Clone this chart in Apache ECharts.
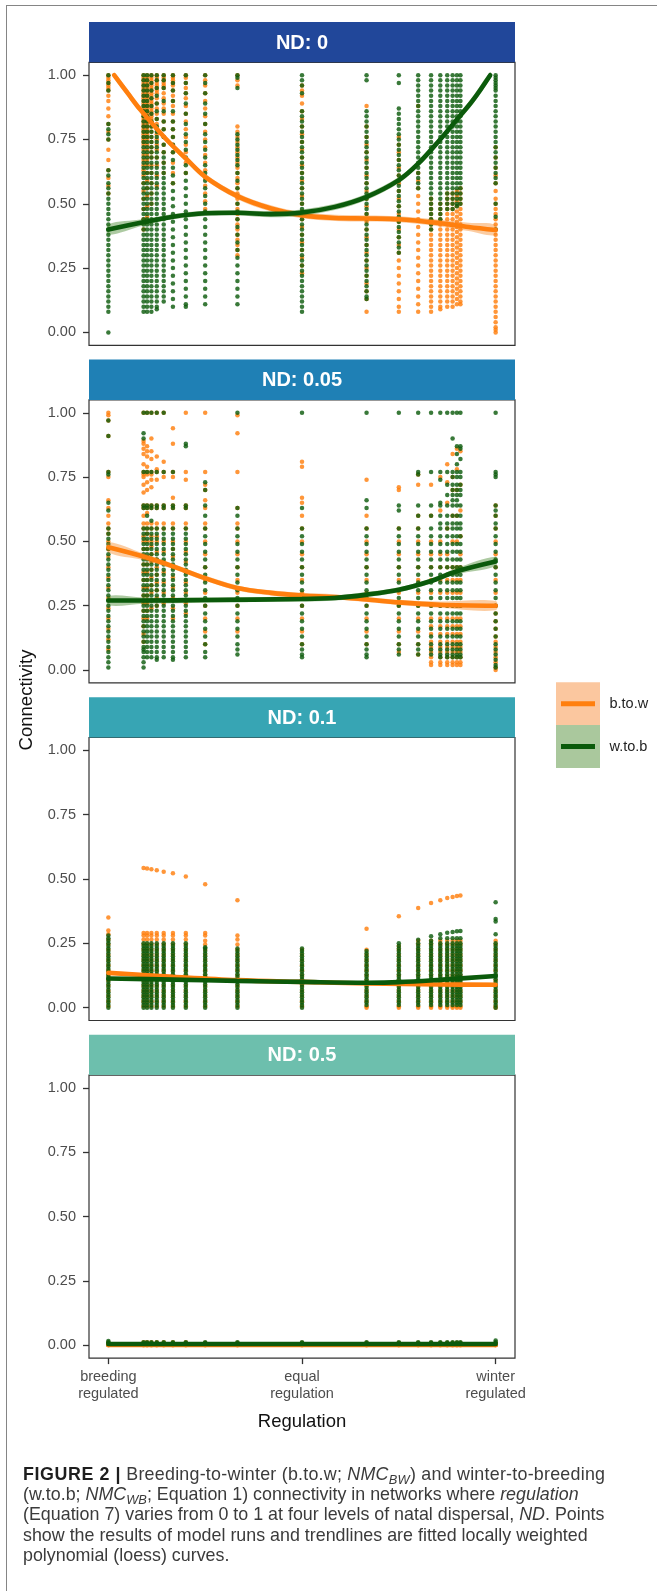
<!DOCTYPE html>
<html>
<head>
<meta charset="utf-8">
<script src="https://cdn.jsdelivr.net/npm/echarts@6/dist/echarts.min.js"></script>
<style>
  html, body { margin: 0; padding: 0; background: #fff; }
  #wrap { position: relative; width: 657px; height: 1591px; overflow: hidden; }
  #frame { position: absolute; left: 6px; top: 5px; right: -10px; bottom: -10px;
           border-left: 1.5px solid #858585; border-top: 1.5px solid #858585; }
  #chart { position: absolute; left: 0; top: 0; width: 657px; height: 1591px; }
  #cap { position: absolute; left: 23px; top: 1464px; font-family: 'Liberation Sans', Arial, sans-serif;
         font-size: 18.5px; line-height: 20.2px; color: #3b3b3b; white-space: nowrap;
         transform: scaleX(0.965); transform-origin: 0 0; }
  #cap b { color: #1e1e1e; letter-spacing: 0.6px; }
  #cap .l1 { letter-spacing: 0.25px; }
  #cap sub { font-size: 0.72em; line-height: 0; vertical-align: -0.3em; }
</style>
</head>
<body>
<div id="wrap">
  <div id="frame"></div>
  <div id="chart"></div>
  <div id="cap"><span class="l1"><b>FIGURE 2 |</b> Breeding-to-winter (b.to.w; <i>NMC</i><sub><i>BW</i></sub>) and winter-to-breeding</span><br>(w.to.b; <i>NMC</i><sub><i>WB</i></sub>; Equation 1) connectivity in networks where <i>regulation</i><br>(Equation 7) varies from 0 to 1 at four levels of natal dispersal, <i>ND</i>. Points<br>show the results of model runs and trendlines are fitted locally weighted<br>polynomial (loess) curves.</div>
</div>
<script>
// regulation levels (x) of the model runs
const regulation = [0, 0.0909, 0.1, 0.1111, 0.125, 0.1429, 0.1667, 0.2, 0.25, 0.3333, 0.5,
  0.6667, 0.75, 0.8, 0.8333, 0.8571, 0.875, 0.8889, 0.9, 0.9091, 1];

const panelLabels = ['ND: 0', 'ND: 0.05', 'ND: 0.1', 'ND: 0.5'];
const yTickValues = [0, 0.25, 0.5, 0.75, 1];
const xTickValues = [0, 0.5, 1];
const xTickLabels = ['breeding\nregulated', 'equal\nregulation', 'winter\nregulated'];
const seriesNames = ['b.to.w', 'w.to.b'];

// connectivity of each run, per regulation column, in percent
const nd0_btw = [
  [100,99,98,97,96,95,94,92,90,87,84,81,78,75,71,67,63,60,57,54],
  [100,99,98,97,96,95,94,93,92,91,90,89,88,87,86,85,84,83,82,81,80,79,78,77,76,75,74,73,71,69,67,65,63,61,58,55,52,48,44,40],
  [100,99,98,97,96,95,94,93,92,91,90,89,88,87,86,85,84,83,82,81,80,79,78,77,76,75,73,71,69,67,65,62,59,56,53,49,45],
  [100,99,98,97,96,95,94,93,92,91,90,89,88,87,86,85,84,83,82,80,78,76,74,72,70,68,65,62,58,54,50],
  [100,99,98,97,96,95,94,93,91,89,87,85,83,81,79,77,75,73,71,68,65,61,57],
  [100,99,98,97,96,95,93,91,89,87,85,82,79,76,73,70,66,62],
  [100,99,98,97,96,94,92,90,88,85,82,79,76,73,70,66,62,58],
  [100,99,97,95,93,91,88,85,82,79,76,73,70,66,62],
  [100,98,96,93,90,87,84,81,78,75,72,69,66,63,60,57,54,51,48],
  [100,98,96,80,78,76,74,72,70,68,66,64,62,60,58,56,54,52,50,48,46,44,42,40,38,36,34,32,30],
  [96,94,92,89,86,83,80,77,74,71,68,65,62,59,56,53,50,47,44,41,38,35,32,29,26,23],
  [88,80,76,73,70,67,64,61,58,55,52,49,46,43,40,37,34,31,28,25,22,19,16,13,8],
  [76,73,70,67,64,61,58,55,52,49,46,43,40,37,34,31,28,25,22,19,16,13,10,8],
  [88,62,59,56,53,50,47,44,41,38,35,32,29,26,23,20,17,14,11,8],
  [52,50,48,46,44,42,40,38,36,34,32,30,28,26,24,22,20,18,16,14,12,10,8],
  [50,48,46,44,42,40,38,36,34,32,30,28,26,24,22,20,18,16,14,12,10,9],
  [54,52,50,48,46,44,42,40,38,36,34,32,30,28,26,24,22,20,18,16,14,12,10],
  [54,52,50,48,46,44,42,40,38,36,34,32,30,28,26,24,22,20,18,16,14,12,10],
  [55,53,51,49,47,45,43,41,39,37,35,33,31,29,27,25,23,21,19,17,15,13,11],
  [56,54,52,50,48,46,44,42,40,38,36,34,32,30,28,26,24,22,20,18,16,14,12,11],
  [72,68,64,61,58,55,52,50,48,46,44,42,40,38,36,34,32,30,28,26,24,22,20,18,16,14,12,10,8,6,4,2,1,0]
];
const nd0_wtb = [
  [100,97,94,81,79,77,75,63,61,58,56,54,52,50,48,46,44,42,40,38,36,34,32,30,28,26,24,22,20,18,16,14,12,10,8,0],
  [100,98,96,94,92,90,88,86,84,82,80,78,76,74,72,70,68,66,64,62,60,58,56,54,52,50,48,46,44,42,40,38,36,34,32,30,28,26,24,22,20,18,16,14,12,10,8],
  [100,98,96,94,92,90,88,86,84,82,80,78,76,74,72,70,68,66,64,62,60,58,56,54,52,50,48,46,44,42,40,38,36,34,32,30,28,26,24,22,20,18,16,14,12,10,8],
  [100,97,94,91,88,85,82,80,78,76,74,72,70,68,66,64,62,60,58,56,54,52,50,48,46,44,42,40,38,36,34,32,30,28,26,24,22,20,18,16,14,12,10,8],
  [100,98,95,92,89,86,83,80,78,76,74,72,70,68,66,64,62,60,58,56,54,52,50,48,46,44,42,40,38,36,34,32,30,28,26,24,22,20,18,16,14,12,10,9],
  [100,98,95,90,86,82,79,76,73,70,68,66,64,62,60,58,56,54,52,50,48,46,44,42,40,38,36,34,32,30,28,26,24,22,20,18,16,14,12],
  [100,97,94,90,86,82,79,76,73,70,67,64,61,58,55,52,49,46,43,40,37,34,31,28,25,22,19,16,13,10],
  [100,97,93,89,85,81,77,74,71,68,65,62,59,56,53,50,47,44,41,38,35,32,29,26,23,20,17,14,11,10],
  [100,97,93,89,85,81,77,74,71,68,65,62,59,56,53,50,47,44,41,38,35,32,29,26,23,20,17,14,11],
  [100,99,95,77,75,73,71,69,67,65,62,59,56,53,50,47,44,41,38,35,32,29,26,23,20,17,14,11],
  [100,98,96,93,86,84,82,80,78,76,74,72,70,68,66,64,62,60,58,56,54,52,50,48,46,44,42,40,38,36,34,32,30,28,26,24,22,20,18,16,14,12,10,8],
  [100,98,86,84,82,80,78,76,74,72,70,68,66,64,62,60,58,56,54,52,50,48,46,44,42,40,38,36,34,32,30,28,26,24,22,20,18,16,14,13],
  [100,97,87,85,83,81,79,77,75,73,71,69,67,65,63,61,59,57,55,53,51,49,47,45,43,41,39,37,35,33,31],
  [100,98,96,94,92,90,88,86,84,82,80,78,76,74,72,70,68,66,64,62,60,58,56],
  [100,98,96,94,92,90,88,86,84,82,80,78,76,74,72,70,68,66,64,62,60,58,56,54,52,50,48,46,44,42,40],
  [100,98,96,94,92,90,88,86,84,82,80,78,76,74,72,70,68,66,64,62,60,58,56,54,52,50,48,46,44],
  [100,98,96,94,92,90,88,86,84,82,80,78,76,74,72,70,68,66,64,62,60,58,56,54,52,50,48],
  [100,98,96,94,92,90,88,86,84,82,80,78,76,74,72,70,68,66,64,62,60,58,56,54,52,50,48],
  [100,98,96,94,92,90,88,86,84,82,80,78,76,74,72,70,68,66,64,62,60,58,56,54,52,50,49],
  [100,98,96,94,92,90,88,86,84,82,80,78,76,74,72,70,68,66,64,62,60,58,56,54,52,50],
  [100,99,98,97,96,95,94,92,90,88,86,84,82,80,78,76,74,72,70,68,66,64,62,60,58,50,45,40]
];

const nd5_btw = [
  [100,99,97,91,77,75,66,63,60,57,55,53,50,47,44,40,36,32,28,24,20,16,12,8],
  [100,89,88,86,84,80,77,76,75,72,69,64,63,60,57,55,52,50,47,44,41,38,35,32,29,26,23,20,17,14,11],
  [100,87,85,83,79,77,76,73,70,64,63,61,57,55,53,50,47,44,41,38,35,32,29,26,23,20],
  [100,90,85,82,77,76,74,71,64,63,57,55,52,50,48,45,42,39,36,33,30,27,24],
  [100,83,78,77,74,64,63,57,55,52,50,46,43,40,37,34,31,28,25],
  [100,81,77,75,64,63,57,55,50,46,42,38,34,30,26],
  [94,88,77,75,67,64,63,57,55,50,47,44,40,36,32,28,24,20],
  [100,77,74,64,63,57,55,50,46,42,38,34,30,26,22],
  [100,77,72,70,66,63,57,55,50,45,40,35,30,25,20,15,10],
  [99,92,77,63,57,55,50,45,40,35,30,25,20,15],
  [81,79,67,65,60,55,50,45,40,35,30,25,20,15,10],
  [74,60,55,50,45,40,35,30,25,20,15,10],
  [71,70,55,50,45,40,35,30,25,20,15,10,7],
  [76,72,60,55,50,45,40,35,30,25,20,15,10,6],
  [72,60,50,45,40,35,30,25,20,17,14,11,9,7,5,3,2],
  [75,62,50,45,40,35,30,25,20,17,14,11,9,7,5,3,2],
  [80,73,65,55,45,40,35,30,25,20,17,14,11,9,7,5,3,2],
  [84,75,70,60,50,40,35,30,25,20,17,14,11,9,7,5,3,2],
  [86,78,70,60,50,40,35,30,25,20,17,14,11,9,7,5,3,2],
  [85,72,62,52,45,40,35,30,25,20,17,14,11,9,7,5,3,2],
  [64,60,55,50,45,40,35,30,25,22,19,16,13,11,9,7,5,3,1,0]
];
const nd5_wtb = [
  [97,91,77,76,65,62,55,53,51,49,47,45,43,41,39,37,35,33,31,29,27,25,23,21,19,17,15,13,11,9,7,5,3,1],
  [100,92,90,77,64,63,55,53,51,49,47,45,43,41,39,37,35,33,31,29,27,25,23,21,19,17,15,13,11,9,8,7,5,3,1],
  [100,77,64,63,60,55,53,51,49,47,45,43,41,39,37,35,33,31,29,27,25,23,21,19,17,15,13,11,9,7,5],
  [100,77,64,63,58,55,53,51,49,47,45,43,41,39,37,35,33,31,29,27,25,23,21,19,17,15,13,11,9,7,5],
  [100,77,64,63,55,53,51,49,47,45,43,41,39,37,35,33,31,29,27,25,23,21,19,17,15,13,11,9,7,5,4],
  [100,77,64,63,55,53,51,49,47,45,43,41,39,37,35,33,31,29,27,25,23,21,19,17,15,13,11,9,7,5],
  [77,64,63,55,53,51,49,47,45,43,41,39,37,35,33,31,29,27,25,23,21,19,17,15,13,11,9,7,5,4],
  [88,87,64,63,55,53,51,49,47,45,43,41,39,37,35,33,31,29,27,25,23,21,19,17,15,13,11,9,7,5],
  [73,70,64,60,55,52,49,46,43,40,37,34,31,28,25,22,19,16,13,10,7,5],
  [100,63,60,55,52,49,46,43,40,37,34,31,28,25,22,19,16,13,10,8,6],
  [100,63,55,52,49,46,43,40,37,34,31,28,25,22,19,16,13,10,8,6,5],
  [100,66,63,55,52,49,46,43,40,37,34,31,28,25,22,19,16,13,10,8,6,5],
  [100,64,62,55,52,49,46,43,40,37,34,31,28,25,22,19,16,13,10,8,6],
  [100,77,76,64,60,55,52,49,46,43,40,37,34,31,28,25,22,19,16,13,10,8,6],
  [100,77,64,60,55,52,49,46,43,40,37,34,31,28,25,22,19,16,13,10,8,6],
  [100,77,74,65,64,60,57,55,52,49,46,43,40,37,34,31,28,25,22,19,16,13,10,8,6,5],
  [100,77,72,68,64,60,57,55,52,49,46,43,40,37,34,31,28,25,22,19,16,13,10,8,6,5],
  [100,90,77,75,72,70,68,66,64,60,57,55,52,49,46,43,40,37,34,31,28,25,22,19,16,13,10,8,6,5],
  [100,87,84,80,77,75,72,70,68,66,64,60,57,55,52,49,46,43,40,37,34,31,28,25,22,19,16,13,10,8,6,5],
  [100,87,86,82,77,75,72,70,68,64,60,57,55,52,49,46,43,40,37,34,31,28,25,22,19,16,13,10,8,6,5],
  [100,77,76,75,64,62,60,57,55,52,49,46,43,40,37,34,31,28,25,22,19,16,13,10,8,6,4,2,1]
];

const nd10_btw = [
  [35,30,28.5,26.5,24.5,22.5,20.5,18.5,16.5,14.5,12.5,10.5,8.5,6.5,4.5,2.5,0.5],
  [54.3,29,28,26.5,24.5,22.5,20.5,18.5,16.5,14.5,12.5,10.5,8.5,6.5,4.5,2.5,0.5],
  [54.1,29,28,26.5,24.5,22.5,20.5,18.5,16.5,14.5,12.5,10.5,8.5,6.5,4.5,2.5,0.5],
  [53.8,29,28,26.5,24.5,22.5,20.5,18.5,16.5,14.5,12.5,10.5,8.5,6.5,4.5,2.5,0.5],
  [53.4,29,28,26.5,24.5,22.5,20.5,18.5,16.5,14.5,12.5,10.5,8.5,6.5,4.5,2.5,0.5],
  [52.8,29,28,26.5,24.5,22.5,20.5,18.5,16.5,14.5,12.5,10.5,8.5,6.5,4.5,2.5,0.5],
  [52.2,29,28,26.5,24.5,22.5,20.5,18.5,16.5,14.5,12.5,10.5,8.5,6.5,4.5,2.5,0.5],
  [51,29,28,26.5,24.5,22.5,20.5,18.5,16.5,14.5,12.5,10.5,8.5,6.5,4.5,2.5,0.5],
  [48,29,28,26,24.5,22.5,20.5,18.5,16.5,14.5,12.5,10.5,8.5,6.5,4.5,2.5,0.5],
  [41.7,28,26.5,24.5,22.5,20.5,18.5,16.5,14.5,12.5,10.5,8.5,6.5,4.5,2.5,0.5],
  [22.5,20.5,18.5,16.5,14.5,12.5,10.5,8.5,6.5,4.5,2.5,0.5],
  [30.7,22.5,20.5,18.5,16.5,14.5,12.5,10.5,8.5,6.5,4.5,2.5,0.5,0],
  [35.5,24,22.5,20.5,18.5,16.5,14.5,12.5,10.5,8.5,6.5,4.5,2.5,0.5,0],
  [38.7,26,24.5,22.5,20.5,18.5,16.5,14.5,12.5,10.5,8.5,6.5,4.5,2.5,0.5,0],
  [40.7,26,24.5,22.5,20.5,18.5,16.5,14.5,12.5,10.5,8.5,6.5,4.5,2.5,0.5,0],
  [41.7,26,24.5,22.5,20.5,18.5,16.5,14.5,12.5,10.5,8.5,6.5,4.5,2.5,0.5,0],
  [42.6,26,24.5,22.5,20.5,18.5,16.5,14.5,12.5,10.5,8.5,6.5,4.5,2.5,0.5,0],
  [43,26,24.5,22.5,20.5,18.5,16.5,14.5,12.5,10.5,8.5,6.5,4.5,2.5,0.5,0],
  [43.4,26,24.5,22.5,20.5,18.5,16.5,14.5,12.5,10.5,8.5,6.5,4.5,2.5,0.5,0],
  [43.6,26,24.5,22.5,20.5,18.5,16.5,14.5,12.5,10.5,8.5,6.5,4.5,2.5,0.5,0],
  [26,24.5,22.5,20.5,18.5,16.5,14.5,12.5,10.5,8.5,6.5,4.5,2.5,0.5,0]
];
const nd10_wtb = [
  [28,27,26,25,24,23,22,21,20,19,18,17,16,15,14,13,12,11,10,9,8,7,6,5,4,3,2,1,0],
  [25,24,23,22,21,20,19,18,17,16,15,14,13,12,11,10,9,8,7,6,5,4,3,2,1,0],
  [25,24,23,22,21,20,19,18,17,16,15,14,13,12,11,10,9,8,7,6,5,4,3,2,1,0],
  [25,24,23,22,21,20,19,18,17,16,15,14,13,12,11,10,9,8,7,6,5,4,3,2,1,0],
  [25,24,23,22,21,20,19,18,17,16,15,14,13,12,11,10,9,8,7,6,5,4,3,2,1,0],
  [25,24,23,22,21,20,19,18,17,16,15,14,13,12,11,10,9,8,7,6,5,4,3,2,1,0],
  [25,24,23,22,21,20,19,18,17,16,15,14,13,12,11,10,9,8,7,6,5,4,3,2,1,0],
  [25,24,23,22,21,20,19,18,17,16,15,14,13,12,11,10,9,8,7,6,5,4,3,2,1,0],
  [23.5,23,22,21,20,19,18,17,16,15,14,13,12,11,10,9,8,7,6,5,4,3,2,1,0],
  [23,22,21,20,19,18,17,16,15,14,13,12,11,10,9,8,7,6,5,4,3,2,1,0],
  [23,22,21,20,19,18,17,16,15,14,13,12,11,10,9,8,7,6,5,4,3,2,1,0],
  [22,21,20,19,18,17,16,15,14,13,12,11,10,9,8,7,6,5,4,3,2,1],
  [25,24,23,22,21,20,19,18,17,16,15,14,13,12,11,10,9,8,7,6,5,4,3,2,1],
  [26.4,25,24,23,22,21,20,19,18,17,16,15,14,13,12,11,10,9,8,7,6,5,4,3,2,1],
  [27.7,26,25,24,23,22,21,20,19,18,17,16,15,14,13,12,11,10,9,8,7,6,5,4,3,2,1],
  [28.5,27,25,24,23,22,21,20,19,18,17,16,15,14,13,12,11,10,9,8,7,6,5,4,3,2,1],
  [29.1,27,25,24,23,22,21,20,19,18,17,16,15,14,13,12,11,10,9,8,7,6,5,4,3,2,1],
  [29.4,27,25,24,23,22,21,20,19,18,17,16,15,14,13,12,11,10,9,8,7,6,5,4,3,2,1],
  [29.7,27,25,24,23,22,21,20,19,18,17,16,15,14,13,12,11,10,9,8,7,6,5,4,3,2,1],
  [29.8,27,25,24,23,22,21,20,19,18,17,16,15,14,13,12,11,10,9,8,7,6,5,4,3,2,1],
  [41,34.5,33.5,28.5,25,24,23,22,21,20,19,18,17,16,15,14,13,12,11,10,9,8,7,6,5,4,3,2,1,0]
];

const nd50_btw = [
  [0,0.5,1],[0,0.6,1.2],[0,0.6,1.2],[0,0.6,1.2],[0,0.6,1.2],[0,0.6,1.2],[0,0.6,1.2],[0,0.6,1.2],
  [0,0.5,1],[0,0.5,1],[0,0.5,1],[0,0.5,1],[0,0.5,1],[0,0.5,1],[0,0.5,1],[0,0.5,1],[0,0.5,1],
  [0,0.5,1],[0,0.5,1],[0,0.5,1],[0,0.5,1]
];
const nd50_wtb = [
  [0.2,0.7,1.2,1.6],[0.2,0.7,1.2],[0.2,0.7,1.2],[0.2,0.7,1.2],[0.2,0.7,1.2],[0.2,0.7,1.2],[0.2,0.7,1.2],
  [0.2,0.7,1.2],[0.2,0.7,1.2],[0.2,0.7,1.2],[0.2,0.7,1.2],[0.2,0.7,1.2],[0.2,0.7,1.2],[0.2,0.7,1.2],
  [0.2,0.7,1.2],[0.2,0.7,1.2],[0.2,0.7,1.2],[0.2,0.7,1.2],[0.2,0.7,1.2],[0.2,0.7,1.2],[0.2,0.7,1.2,1.8]
];

// loess fits: [regulation, connectivity, half width of confidence band]
const nd0_btw_fit = [[0.015,1.0,0.01],[0.05,0.93,0.014],[0.082,0.867,0.014],[0.15,0.75,0.012],[0.2,0.676,0.012],
  [0.25,0.605,0.012],[0.333,0.53,0.012],[0.42,0.482,0.012],[0.5,0.456,0.012],[0.585,0.445,0.012],
  [0.667,0.443,0.012],[0.75,0.44,0.012],[0.855,0.425,0.013],[0.93,0.41,0.016],[1.0,0.398,0.02]];
const nd0_wtb_fit = [[0,0.40,0.02],[0.09,0.428,0.012],[0.167,0.45,0.01],[0.25,0.463,0.01],[0.333,0.465,0.01],
  [0.42,0.46,0.012],[0.5,0.466,0.012],[0.585,0.488,0.012],[0.667,0.527,0.012],[0.75,0.592,0.012],
  [0.8,0.656,0.012],[0.855,0.747,0.012],[0.898,0.824,0.013],[0.941,0.902,0.015],[0.986,1.0,0.012]];
const nd5_btw_fit = [[0,0.477,0.02],[0.09,0.441,0.013],[0.167,0.403,0.01],[0.25,0.357,0.01],[0.333,0.319,0.01],
  [0.42,0.3,0.01],[0.5,0.29,0.01],[0.585,0.284,0.01],[0.667,0.274,0.01],[0.75,0.263,0.01],
  [0.855,0.254,0.012],[1,0.25,0.018]];
const nd5_wtb_fit = [[0,0.27,0.018],[0.09,0.27,0.012],[0.25,0.272,0.01],[0.5,0.276,0.01],[0.585,0.28,0.01],
  [0.667,0.293,0.01],[0.75,0.312,0.01],[0.831,0.345,0.01],[0.898,0.383,0.012],[1,0.422,0.018]];
const nd10_btw_fit = [[0,0.135,0.006],[0.167,0.12,0.004],[0.333,0.107,0.004],[0.5,0.1,0.004],
  [0.667,0.094,0.004],[0.855,0.09,0.004],[1,0.089,0.006]];
const nd10_wtb_fit = [[0,0.113,0.005],[0.167,0.109,0.004],[0.333,0.104,0.004],[0.5,0.1,0.004],
  [0.667,0.097,0.004],[0.75,0.099,0.004],[0.855,0.108,0.004],[1,0.123,0.006]];
const nd50_btw_fit = [[0,0.001,0.001],[0.5,0.001,0.001],[1,0.001,0.001]];
const nd50_wtb_fit = [[0,0.005,0.001],[0.5,0.005,0.001],[1,0.005,0.001]];

const pointData = [[nd0_btw, nd0_wtb], [nd5_btw, nd5_wtb], [nd10_btw, nd10_wtb], [nd50_btw, nd50_wtb]];
const fitData = [[nd0_btw_fit, nd0_wtb_fit], [nd5_btw_fit, nd5_wtb_fit], [nd10_btw_fit, nd10_wtb_fit], [nd50_btw_fit, nd50_wtb_fit]];

// ── styling / layout ──
const FONT = '"Liberation Sans", Arial, sans-serif';
const stripColors = ['#21479a', '#1f80b5', '#37a5b4', '#6dbfad'];
const pointColors = ['#ff7f0e', '#0d5c0d'];
const lineColors = ['#ff7f0e', '#0b5a0b'];
const bandColors = ['rgba(245,120,10,0.38)', 'rgba(40,115,10,0.38)'];
const keyColors = ['#fbc79f', '#aac89d'];
const GRID_LEFT = 89, GRID_W = 426, STRIP_H = 40.3, GRID_H = 283;
const stripTops = [22, 359.6, 697.2, 1034.8];

function toPoints(cols) {
  const out = [];
  cols.forEach((col, i) => col.forEach((v) => out.push([regulation[i], v / 100])));
  return out;
}

function bandSeries(k, fit, color, z) {
  return {
    type: 'custom', xAxisIndex: k, yAxisIndex: k, silent: true, z, clip: true,
    data: [[fit[0][0], fit[0][1]]],
    renderItem: (params, api) => {
      const up = fit.map((d) => api.coord([d[0], d[1] + d[2]]));
      const dn = fit.map((d) => api.coord([d[0], d[1] - d[2]])).reverse();
      return { type: 'polygon', shape: { points: up.concat(dn), smooth: 0.35 }, style: { fill: color } };
    }
  };
}

const grids = [], xAxes = [], yAxes = [], series = [], graphics = [];

stripTops.forEach((top, k) => {
  const last = k === stripTops.length - 1;
  grids.push({ left: GRID_LEFT, top: top + STRIP_H, width: GRID_W, height: GRID_H,
    show: true, borderColor: '#333', borderWidth: 1.2, backgroundColor: 'transparent' });
  xAxes.push({
    type: 'value', gridIndex: k, min: -0.05, max: 1.05, show: last, position: 'bottom',
    axisLine: { show: false, onZero: false }, splitLine: { show: false },
    axisTick: { show: last, length: 6, lineStyle: { color: '#333', width: 1.3 }, customValues: xTickValues },
    axisLabel: { show: last, customValues: xTickValues, color: '#4d4d4d', fontSize: 14.5, fontFamily: FONT,
      lineHeight: 16.3, margin: 11, formatter: (v) => xTickLabels[xTickValues.indexOf(v)] }
  });
  yAxes.push({
    type: 'value', gridIndex: k, min: -0.05, max: 1.05, position: 'left',
    axisLine: { show: false, onZero: false }, splitLine: { show: false },
    axisTick: { show: true, length: 6, lineStyle: { color: '#333', width: 1.3 }, customValues: yTickValues },
    axisLabel: { customValues: yTickValues, color: '#4d4d4d', fontSize: 14.5, fontFamily: FONT, margin: 13,
      formatter: (v) => v.toFixed(2) }
  });

  [0, 1].forEach((s) => {
    series.push({
      name: seriesNames[s], type: 'scatter', xAxisIndex: k, yAxisIndex: k, silent: true, z: 2 + s,
      data: toPoints(pointData[k][s]), symbolSize: 4.5,
      itemStyle: { color: pointColors[s], opacity: 0.82 }
    });
  });
  [0, 1].forEach((s) => {
    const fit = fitData[k][s];
    series.push(bandSeries(k, fit, bandColors[s], 4 + 2 * s));
    series.push({
      type: 'line', xAxisIndex: k, yAxisIndex: k, silent: true, z: 5 + 2 * s,
      data: fit.map((d) => [d[0], d[1]]), smooth: 0.35, symbol: 'none', clip: true,
      lineStyle: { color: lineColors[s], width: 4.6, cap: 'round' }
    });
  });

  graphics.push({ type: 'rect', shape: { x: GRID_LEFT, y: top, width: GRID_W, height: STRIP_H },
    style: { fill: stripColors[k] } });
  graphics.push({ type: 'text', style: { text: panelLabels[k], x: GRID_LEFT + GRID_W / 2, y: top + STRIP_H / 2 + 1,
    align: 'center', verticalAlign: 'middle', fill: '#fff', font: 'bold 20px ' + FONT } });
});

// axis titles
graphics.push({ type: 'text', x: 27, y: 700, rotation: Math.PI / 2,
  style: { text: 'Connectivity', x: 0, y: 0, align: 'center', verticalAlign: 'middle', fill: '#111', font: '18.5px ' + FONT } });
graphics.push({ type: 'text', style: { text: 'Regulation', x: GRID_LEFT + GRID_W / 2, y: 1422,
  align: 'center', verticalAlign: 'middle', fill: '#111', font: '18.5px ' + FONT } });

// legend
const keyTops = [682.3, 725];
[0, 1].forEach((s) => {
  const y0 = keyTops[s];
  graphics.push({ type: 'rect', shape: { x: 556, y: y0, width: 44, height: 43 }, style: { fill: keyColors[s] } });
  graphics.push({ type: 'line', shape: { x1: 561, y1: y0 + 21.5, x2: 595, y2: y0 + 21.5 },
    style: { stroke: lineColors[s], lineWidth: 5 } });
  graphics.push({ type: 'text', style: { text: seriesNames[s], x: 609.5, y: y0 + 21.5,
    align: 'left', verticalAlign: 'middle', fill: '#222', font: '14.5px ' + FONT } });
});

const chart = echarts.init(document.getElementById('chart'), null, { renderer: 'canvas' });
chart.setOption({
  animation: false,
  grid: grids,
  xAxis: xAxes,
  yAxis: yAxes,
  series,
  graphic: graphics
});
</script>
</body>
</html>
